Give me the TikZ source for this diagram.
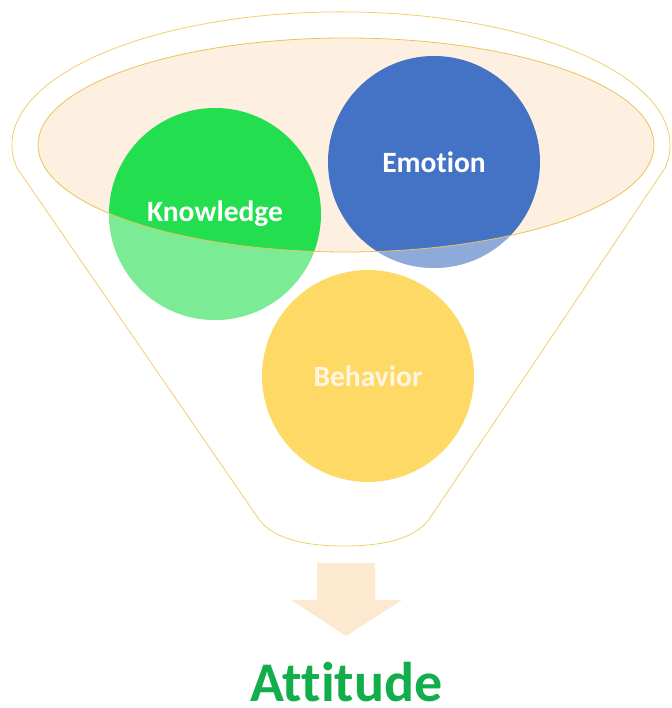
\documentclass[tikz,border=0pt]{standalone}
\usepackage{fontspec}
\setmainfont{Carlito}[Ligatures={NoCommon}]
\definecolor{funnelline}{HTML}{EFCF6A}
\definecolor{ellline}{HTML}{E9C457}
\definecolor{beige}{HTML}{FDF0E1}
\definecolor{kgreen}{HTML}{23DE4F}
\definecolor{eblue}{HTML}{4472C4}
\definecolor{byellow}{HTML}{FFD966}
\definecolor{peach}{HTML}{FDE8D0}
\definecolor{attgreen}{HTML}{12AE4C}
\definecolor{cream}{HTML}{FFF6E2}
\begin{document}
\begin{tikzpicture}[x=1pt,y=1pt,
  bubble/.style={circle, minimum size=212pt, inner sep=0pt, text=white,
    font=\bfseries\fontsize{29.5}{31}\selectfont},
  veil/.style={fill=white, fill opacity=0.4, even odd rule}
]
\useasboundingbox (0,0) rectangle (671,708);
% funnel outline
\draw[draw=funnelline, line width=0.8pt]
  (17,540) arc[start angle=190, end angle=-10, x radius=329, y radius=133]
  -- (430,190) .. controls (415,168) and (380,162) .. (344,162)
  .. controls (308,162) and (273,168) .. (258,190) -- cycle;
% inner ellipse fill
\fill[beige] (346,563) ellipse[x radius=308, y radius=107];
% circles
\node[bubble, fill=kgreen] (know) at (215,494) {Knowledge};
\node[bubble, fill=eblue] (emo) at (434,546) {Emotion};
% lighter parts outside the ellipse
\begin{scope}
  \clip (215,494) circle[radius=106];
  \fill[veil] (0,0) rectangle (671,708) (346,563) ellipse[x radius=308, y radius=107];
\end{scope}
\begin{scope}
  \clip (434,546) circle[radius=106];
  \fill[veil] (0,0) rectangle (671,708) (346,563) ellipse[x radius=308, y radius=107];
\end{scope}
% ellipse outline
\draw[draw=ellline, line width=0.8pt] (346,563) ellipse[x radius=308, y radius=107];
% behavior
\node[bubble, fill=byellow, text=cream] (beh) at (368,332) {Behavior};
% arrow
\fill[peach] (317,145) -- (375,145) -- (375,108) -- (402,108) -- (346,72)
  -- (291,108) -- (317,108) -- cycle;
% result
\node[anchor=base, inner sep=0pt, text=attgreen,
  font=\bfseries\fontsize{56}{60}\selectfont] (att) at (346.5,6) {Attitude};
\end{tikzpicture}
\end{document}
